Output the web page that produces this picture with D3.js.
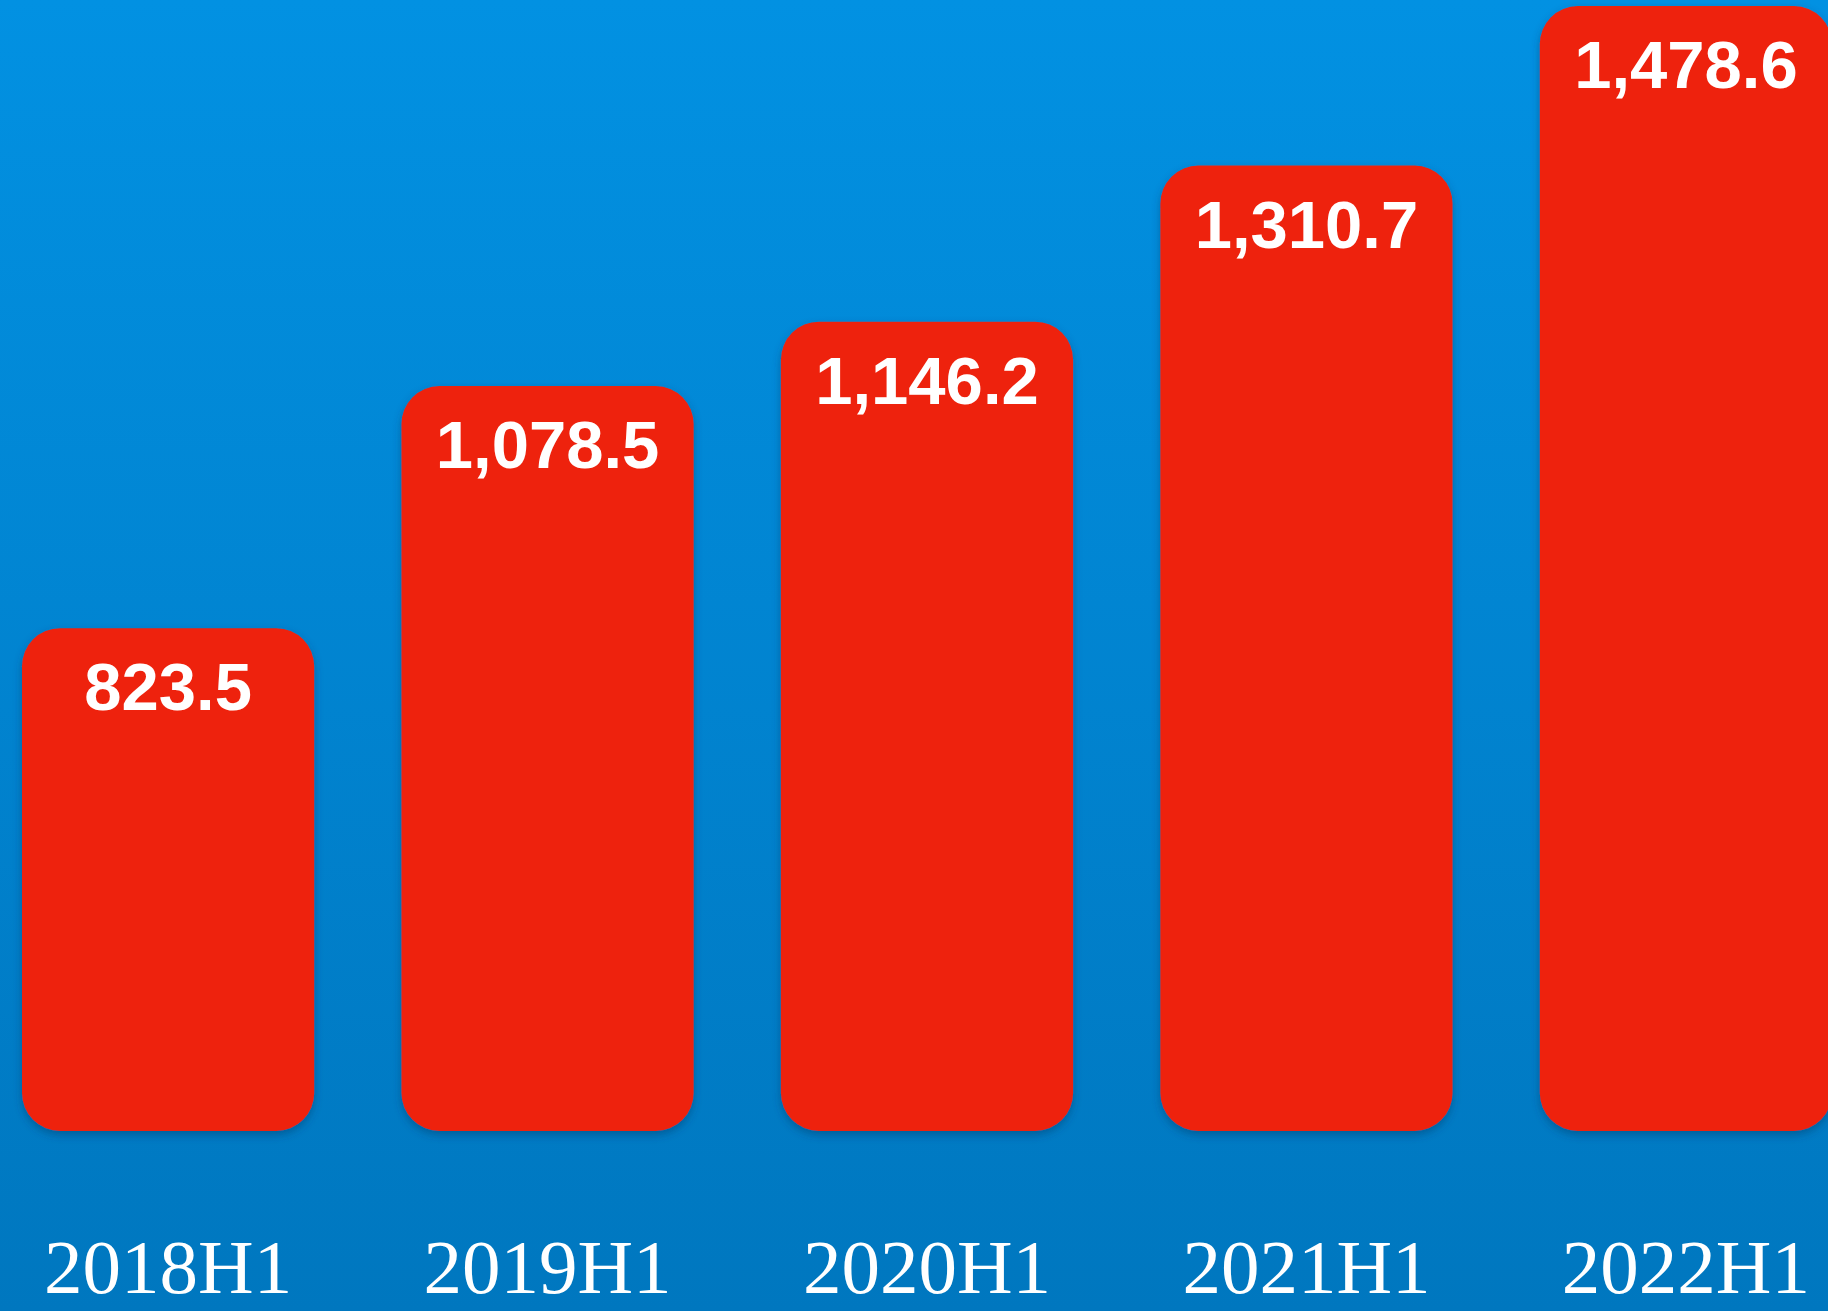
<!DOCTYPE html>
<html lang="en">

<head>
    <meta charset="utf-8">
    <title>H1 Bar Chart</title>
    <style type="text/css">
        body {
            margin: 0;
            overflow: hidden;
        }
    </style>
    <script type="text/javascript" src="https://cdn.jsdelivr.net/npm/d3@7"></script>
</head>

<body>
    <script type="text/javascript">
        var categories = ["2018H1", "2019H1", "2020H1", "2021H1", "2022H1"];
        var values = [823.5, 1078.5, 1146.2, 1310.7, 1478.6];

        var svgW = 1828;
        var svgH = 1311;
        var barBottom = 1131;

        var svg = d3.select("body").append("svg")
            .attr("width", svgW)
            .attr("height", svgH);

        /* BACKGROUND */

        var defs = svg.append("defs");

        var grad = defs.append("linearGradient")
            .attr("id", "bg")
            .attr("x1", 0).attr("y1", 0)
            .attr("x2", 0).attr("y2", 1);
        grad.append("stop").attr("offset", "0%").attr("stop-color", "#0291e2");
        grad.append("stop").attr("offset", "100%").attr("stop-color", "#0077bf");

        var shadow = defs.append("filter")
            .attr("id", "shadow")
            .attr("x", "-10%").attr("y", "-10%")
            .attr("width", "120%").attr("height", "120%");
        shadow.append("feDropShadow")
            .attr("dx", 0)
            .attr("dy", 4)
            .attr("stdDeviation", 4)
            .attr("flood-color", "#003a66")
            .attr("flood-opacity", 0.45);

        svg.append("rect")
            .attr("width", svgW)
            .attr("height", svgH)
            .attr("fill", "url(#bg)");

        /* SCALES */

        var x = d3.scaleBand()
            .domain(categories)
            .range([22, 1832])
            .paddingInner(0.23)
            .paddingOuter(0);

        var y = d3.scaleLinear()
            .domain([294, 1485])
            .range([barBottom, 0]);

        /* BARS */

        var bars = svg.selectAll(".bar")
            .data(values)
            .enter().append("g")
            .attr("class", "bar");

        bars.append("rect")
            .attr("x", function (d, i) { return x(categories[i]); })
            .attr("y", function (d) { return y(d); })
            .attr("width", x.bandwidth())
            .attr("height", function (d) { return barBottom - y(d); })
            .attr("rx", 38)
            .attr("ry", 38)
            .attr("fill", "#ee230c")
            .attr("filter", "url(#shadow)");

        bars.append("text")
            .text(function (d) { return d3.format(",.1f")(d); })
            .attr("x", function (d, i) { return x(categories[i]) + x.bandwidth() / 2; })
            .attr("y", function (d) { return y(d) + 82; })
            .attr("text-anchor", "middle")
            .attr("fill", "white")
            .attr("font-family", "'Liberation Sans', Arial, sans-serif")
            .attr("font-weight", "bold")
            .attr("font-size", 67);

        /* CATEGORY LABELS */

        svg.selectAll(".cat")
            .data(categories)
            .enter().append("text")
            .attr("class", "cat")
            .text(function (d) { return d; })
            .attr("x", function (d) { return x(d) + x.bandwidth() / 2; })
            .attr("y", 1293)
            .attr("text-anchor", "middle")
            .attr("fill", "white")
            .attr("font-family", "'Liberation Serif', 'Times New Roman', serif")
            .attr("font-size", 77);
    </script>
</body>

</html>
